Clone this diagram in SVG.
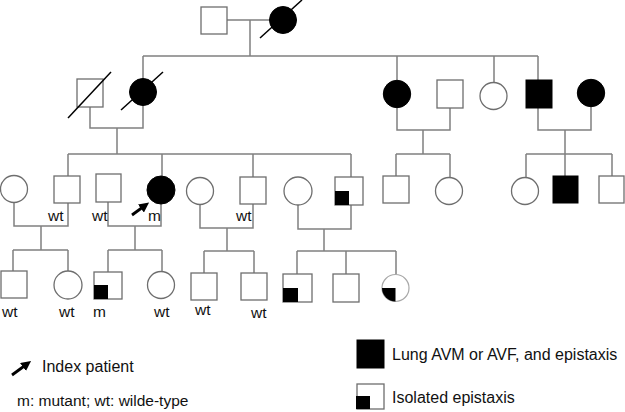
<svg xmlns="http://www.w3.org/2000/svg" width="625" height="412" viewBox="0 0 625 412">
<style>
.ln{stroke:#808080;stroke-width:1.5;fill:none}
.o{fill:#fff;stroke:#6e6e6e;stroke-width:1.3}
.lt{fill:#fff;stroke:#a8a8a8;stroke-width:1.2}
.f{fill:#000;stroke:#000;stroke-width:1}
.q{fill:#000}
.sl{stroke:#000;stroke-width:1.5}
.t{font-family:"Liberation Sans",Arial,sans-serif;font-size:15.5px;fill:#111}
.lg{font-family:"Liberation Sans",Arial,sans-serif;font-size:16px;fill:#111}
.ar{stroke:#000;stroke-width:2.8;fill:none}
</style>
<defs>
<marker id="ah" viewBox="0 0 10 10" refX="5" refY="5" markerWidth="3.6" markerHeight="3.6" orient="auto" markerUnits="strokeWidth">
<path d="M0,0 L10,5 L0,10 z" fill="#000"/>
</marker>
</defs>
<g id="connectors">
<path class="ln" d="M227,20 H270 M250,20 V56 M143,56 H538"/>
<path class="ln" d="M143,56 V78.5 M397,56 V80 M494,56 V82.5 M538,56 V80"/>
<path class="ln" d="M90,107 V128 H143 V105.5 M117,128 V154"/>
<path class="ln" d="M397,108 V130 H450 V108 M423,130 V154"/>
<path class="ln" d="M538,108 V130 H591 V107 M565,130 V154"/>
<path class="ln" d="M68,154 H351 M68,154 V176 M162,154 V176 M253,154 V177 M351,154 V177"/>
<path class="ln" d="M396,154 H450 M396,154 V176 M450,154 V177.5"/>
<path class="ln" d="M526,154 H612 M526,154 V177.5 M565,154 V176 M612,154 V176"/>
<path class="ln" d="M14,202.5 V226 H68 V203 M41,226 V250 M13,250 H68 M13,250 V271 M68,250 V271"/>
<path class="ln" d="M108,202 V226 H161 V204 M135,226 V250 M108,250 H162 M108,250 V272 M162,250 V271.5"/>
<path class="ln" d="M200,204.5 V228 H253 V204 M227,228 V251 M204,251 H254 M204,251 V273 M254,251 V273"/>
<path class="ln" d="M298,205 V229 H351 V205 M324,229 V251 M297,251 H396 M297,251 V274 M346,251 V274 M396,251 V274.5"/>
</g>
<g id="I-1"><rect class="o" x="201" y="7" width="26" height="27"/></g>
<g id="I-2"><circle class="f" cx="283" cy="20" r="13.5"/><line class="sl" x1="260" y1="38" x2="302" y2="0"/></g>
<g id="II-1"><rect class="o" x="77" y="79" width="26" height="28"/><line class="sl" x1="68" y1="118" x2="111" y2="72"/></g>
<g id="II-2"><circle class="f" cx="143" cy="92" r="13.5"/><line class="sl" x1="121" y1="110" x2="163" y2="72"/></g>
<g id="II-3"><circle class="f" cx="397" cy="94" r="13.7"/></g>
<g id="II-4"><rect class="o" x="437" y="80" width="26" height="28"/></g>
<g id="II-5"><circle class="o" cx="493.5" cy="96" r="13.5"/></g>
<g id="II-6"><rect class="f" x="526" y="80" width="26" height="28"/></g>
<g id="II-7"><circle class="f" cx="591" cy="93" r="13.7"/></g>
<g id="III-1"><circle class="o" cx="14" cy="189" r="13.5"/></g>
<g id="III-2"><rect class="o" x="54" y="176" width="26" height="27"/><text class="t" x="48" y="221">wt</text></g>
<g id="III-3"><rect class="o" x="96" y="174" width="25" height="28"/><text class="t" x="92" y="221">wt</text></g>
<g id="III-4"><circle class="f" cx="161" cy="190" r="14"/><text class="t" x="148" y="221">m</text><line class="ar" x1="132" y1="215" x2="145" y2="205.5" marker-end="url(#ah)"/></g>
<g id="III-5"><circle class="o" cx="200" cy="191" r="13.5"/></g>
<g id="III-6"><rect class="o" x="240" y="177" width="26" height="27"/><text class="t" x="236" y="221">wt</text></g>
<g id="III-7"><circle class="o" cx="298" cy="191" r="14"/></g>
<g id="III-8"><rect class="o" x="335" y="177" width="28" height="28"/><rect class="q" x="335" y="191" width="14" height="14"/></g>
<g id="III-9"><rect class="o" x="383" y="176" width="26" height="27"/></g>
<g id="III-10"><circle class="o" cx="449" cy="191" r="13.5"/></g>
<g id="III-11"><circle class="o" cx="525" cy="191" r="13.5"/></g>
<g id="III-12"><rect class="f" x="553" y="176" width="25" height="27"/></g>
<g id="III-13"><rect class="o" x="599" y="176" width="25" height="27"/></g>
<g id="IV-1"><rect class="o" x="1" y="271" width="26" height="27"/><text class="t" x="2" y="317">wt</text></g>
<g id="IV-2"><circle class="o" cx="68" cy="285" r="14"/><text class="t" x="59" y="317">wt</text></g>
<g id="IV-3"><rect class="o" x="94" y="272" width="28" height="27"/><rect class="q" x="94" y="285" width="14" height="14"/><text class="t" x="93" y="317">m</text></g>
<g id="IV-4"><circle class="o" cx="161" cy="285" r="13.5"/><text class="t" x="154" y="317">wt</text></g>
<g id="IV-5"><rect class="o" x="191" y="273" width="26" height="27"/><text class="t" x="195" y="315">wt</text></g>
<g id="IV-6"><rect class="o" x="241" y="273" width="26" height="27"/><text class="t" x="251" y="318">wt</text></g>
<g id="IV-7"><rect class="o" x="283" y="274" width="29" height="28"/><rect class="q" x="283" y="288" width="15" height="14"/></g>
<g id="IV-8"><rect class="o" x="333" y="274" width="26" height="28"/></g>
<g id="IV-9"><circle class="lt" cx="395.5" cy="288" r="13.5"/><path class="q" d="M395.5,288 H382 A13.5,13.5 0 0 0 395.5,301.5 Z"/></g>
<g id="legend">
<line class="ar" x1="12" y1="375" x2="27" y2="364" marker-end="url(#ah)"/>
<text class="lg" x="42" y="372">Index patient</text>
<text class="t" x="17" y="406">m: mutant; wt: wilde-type</text>
<rect class="f" x="357" y="340" width="27" height="28"/>
<text class="lg" x="392" y="360">Lung AVM or AVF, and epistaxis</text>
<rect class="o" x="357" y="384" width="27" height="25"/>
<rect class="q" x="356" y="396" width="14" height="13"/>
<text class="lg" x="392" y="403">Isolated epistaxis</text>
</g>
</svg>
